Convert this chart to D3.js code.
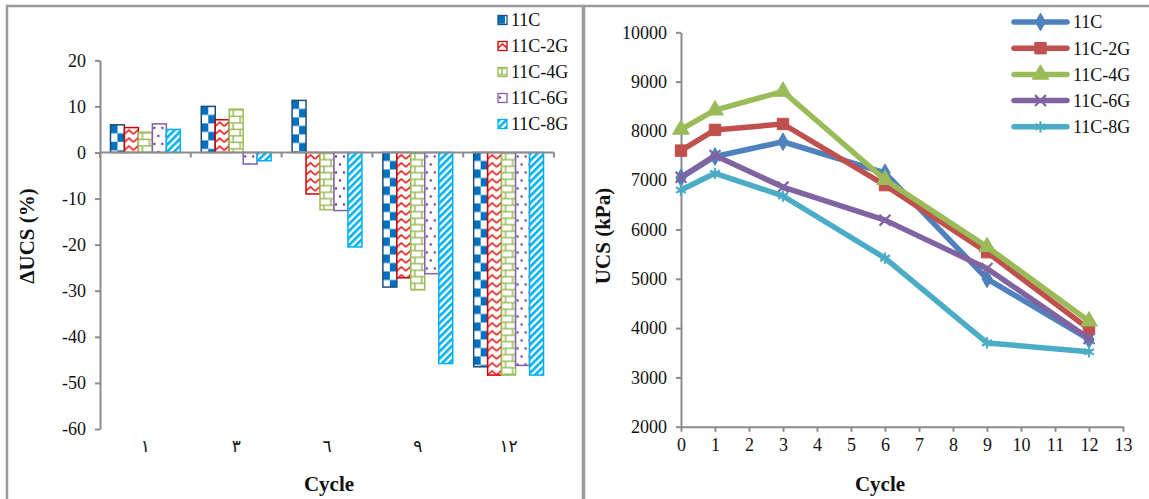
<!DOCTYPE html>
<html>
<head>
<meta charset="utf-8">
<script src="https://cdn.jsdelivr.net/npm/d3@7"></script>
<style>
  html, body { margin: 0; padding: 0; background: #fff; }
  svg { display: block; }
  svg text { font-family: "Liberation Serif", "Times New Roman", "DejaVu Serif", serif; fill: #111; }
  svg text.arabic { font-family: "DejaVu Sans", "Noto Sans", sans-serif; }
</style>
</head>
<body>
<svg id="chart" width="1149" height="499"></svg>
<script>
// ---- data ----
const seriesNames = ["11C", "11C-2G", "11C-4G", "11C-6G", "11C-8G"];

// change in UCS (%) per cycle
const barCategories = ["١", "٣", "٦", "٩", "١٢"];
const delta11C  = [6.0, 10.0, 11.3, -29.2, -46.5];
const delta2G   = [5.4, 7.1, -9.0, -27.2, -48.3];
const delta4G   = [4.4, 9.4, -12.4, -29.8, -48.3];
const delta6G   = [6.2, -2.5, -12.6, -26.3, -46.2];
const delta8G   = [5.0, -1.8, -20.5, -45.8, -48.3];
const deltaTicks = [-60, -50, -40, -30, -20, -10, 0, 10, 20];

// UCS (kPa) per cycle
const cycles  = [0, 1, 3, 6, 9, 12];
const ucs11C  = [7050, 7480, 7780, 7150, 5000, 3770];
const ucs2G   = [7600, 8020, 8140, 6900, 5540, 3980];
const ucs4G   = [8030, 8420, 8800, 7010, 5650, 4140];
const ucs6G   = [7060, 7500, 6860, 6190, 5210, 3790];
const ucs8G   = [6800, 7140, 6680, 5420, 3700, 3520];
const ucsTicks = [2000, 3000, 4000, 5000, 6000, 7000, 8000, 9000, 10000];
const cycleTicks = d3.range(0, 14);

const deltaSeries = [delta11C, delta2G, delta4G, delta6G, delta8G];
const ucsSeries = [ucs11C, ucs2G, ucs4G, ucs6G, ucs8G];

const svg = d3.select("#chart");
const axisColor = "#8c8c8c";
const labelSize = 18;
const plain = d => String(d);   // hyphen-minus, no grouping

// ---- panel frames ----
svg.append("rect").attr("x", 7).attr("y", 6).attr("width", 576).attr("height", 520)
  .attr("fill", "none").attr("stroke", "#9a9a9a").attr("stroke-width", 2.5);
svg.append("rect").attr("x", 584).attr("y", 6).attr("width", 580).attr("height", 520)
  .attr("fill", "none").attr("stroke", "#9a9a9a").attr("stroke-width", 2.5);

// ---- fill patterns for the bars ----
const defs = svg.append("defs");

const pChk = defs.append("pattern").attr("id", "pat0").attr("patternUnits", "userSpaceOnUse")
  .attr("width", 14).attr("height", 17);
pChk.append("rect").attr("width", 14).attr("height", 17).attr("fill", "#fff");
pChk.append("rect").attr("x", 0).attr("y", 0).attr("width", 7).attr("height", 8.5).attr("fill", "#0070C0");
pChk.append("rect").attr("x", 7).attr("y", 8.5).attr("width", 7).attr("height", 8.5).attr("fill", "#0070C0");

const pZig = defs.append("pattern").attr("id", "pat1").attr("patternUnits", "userSpaceOnUse")
  .attr("width", 9).attr("height", 8);
pZig.append("rect").attr("width", 9).attr("height", 8).attr("fill", "#fff");
pZig.append("path").attr("d", "M0,6.5 L4.5,2.5 L9,6.5").attr("fill", "none")
  .attr("stroke", "#E00000").attr("stroke-width", 1.6);

const pBrick = defs.append("pattern").attr("id", "pat2").attr("patternUnits", "userSpaceOnUse")
  .attr("width", 14).attr("height", 13);
pBrick.append("rect").attr("width", 14).attr("height", 13).attr("fill", "#fff");
pBrick.append("path").attr("d", "M0,0.75 H14 M0,7.25 H14 M4,0.75 V7.25 M11,7.25 V13.75")
  .attr("fill", "none").attr("stroke", "#9BBB59").attr("stroke-width", 1.5);

const pDot = defs.append("pattern").attr("id", "pat3").attr("patternUnits", "userSpaceOnUse")
  .attr("width", 8).attr("height", 16);
pDot.append("rect").attr("width", 8).attr("height", 16).attr("fill", "#fff");
pDot.append("circle").attr("cx", 2).attr("cy", 4).attr("r", 1.2).attr("fill", "#7030A0");
pDot.append("circle").attr("cx", 6).attr("cy", 12).attr("r", 1.2).attr("fill", "#7030A0");

const pDiag = defs.append("pattern").attr("id", "pat4").attr("patternUnits", "userSpaceOnUse")
  .attr("width", 5).attr("height", 5).attr("patternTransform", "rotate(45)");
pDiag.append("rect").attr("width", 5).attr("height", 5).attr("fill", "#fff");
pDiag.append("rect").attr("width", 2.6).attr("height", 5).attr("fill", "#00B0F0");

const barStroke = ["#1F4E79", "#D00000", "#9BBB59", "#8060B0", "#00B0F0"];

// ---- left panel: grouped bar chart ----
const yL = d3.scaleLinear().domain([-60, 20]).range([429, 60.3]);
const xL = d3.scaleBand().domain(barCategories).range([100, 554]);
const xS = d3.scaleBand().domain(seriesNames).range([0, xL.bandwidth()]).paddingOuter(0.75);

const gBars = svg.append("g");
barCategories.forEach((cat, ci) => {
  deltaSeries.forEach((vals, si) => {
    const v = vals[ci];
    const x0 = xL(cat) + xS(seriesNames[si]);
    const yTop = yL(Math.max(0, v));
    const h = Math.abs(yL(v) - yL(0));
    const g = gBars.append("g").attr("transform", `translate(${x0},${yTop})`);
    g.append("rect").attr("x", 0).attr("y", 0).attr("width", xS.bandwidth()).attr("height", h)
      .attr("fill", `url(#pat${si})`).attr("stroke", barStroke[si]).attr("stroke-width", 1.5);
  });
});

// y axis
svg.append("g").attr("transform", "translate(100,0)")
  .call(d3.axisLeft(yL).tickValues(deltaTicks).tickFormat(plain).tickSize(5).tickPadding(9).tickSizeOuter(0));
// category boundary ticks along the zero line
const boundaries = barCategories.map(c => xL(c)).concat([xL.range()[1]]);
const gZero = svg.append("g");
gZero.append("line").attr("x1", 100).attr("x2", 554).attr("y1", yL(0)).attr("y2", yL(0))
  .attr("stroke", axisColor).attr("stroke-width", 2);
gZero.selectAll("line.bt").data(boundaries).join("line").attr("class", "bt")
  .attr("x1", d => d).attr("x2", d => d).attr("y1", yL(0)).attr("y2", yL(0) + 5)
  .attr("stroke", axisColor).attr("stroke-width", 2);
// category labels at the bottom of the plot
const axCat = svg.append("g").attr("transform", "translate(0,436)")
  .call(d3.axisBottom(xL).tickSize(0).tickPadding(4));
axCat.select(".domain").remove();
axCat.selectAll("text").attr("class", "arabic").attr("font-size", 17);

// ---- right panel: line chart ----
const xR = d3.scaleLinear().domain([0, 13]).range([681, 1123]);
const yR = d3.scaleLinear().domain([2000, 10000]).range([426.7, 32.3]);

svg.append("g").attr("transform", "translate(681,0)")
  .call(d3.axisLeft(yR).tickValues(ucsTicks).tickSize(5).tickPadding(9).tickSizeOuter(0).tickFormat(plain));
svg.append("g").attr("transform", `translate(0,${yR(2000)})`)
  .call(d3.axisBottom(xR).tickValues(cycleTicks).tickFormat(plain).tickSize(5).tickPadding(7).tickSizeOuter(0));

// shared axis styling
svg.selectAll(".domain").attr("stroke", axisColor).attr("stroke-width", 2);
svg.selectAll(".tick line").attr("stroke", axisColor).attr("stroke-width", 2);
svg.selectAll(".tick text:not(.arabic)").attr("font-size", labelSize);

const lineColors = ["#4F81BD", "#C0504D", "#9BBB59", "#8064A2", "#4BACC6"];
const markerSymbols = [d3.symbolDiamond, d3.symbolSquare, d3.symbolTriangle, d3.symbolX, d3.symbolAsterisk];
const markerSizes = [90, 130, 120, 80, 90];

const line = d3.line().x((d, i) => xR(cycles[i])).y(d => yR(d));

function drawMarker(g, si, x, y) {
  const sym = d3.symbol().type(markerSymbols[si]).size(markerSizes[si]);
  const p = g.append("path").attr("d", sym()).attr("transform", `translate(${x},${y})`);
  if (si >= 3) {
    p.attr("fill", "none").attr("stroke", lineColors[si]).attr("stroke-width", 2.2);
  } else {
    p.attr("fill", lineColors[si]).attr("stroke", lineColors[si]).attr("stroke-width", 1);
  }
}

const gLines = svg.append("g");
ucsSeries.forEach((vals, si) => {
  gLines.append("path").datum(vals).attr("d", line).attr("fill", "none")
    .attr("stroke", lineColors[si]).attr("stroke-width", 5.5)
    .attr("stroke-linejoin", "round").attr("stroke-linecap", "round");
  vals.forEach((v, i) => drawMarker(gLines, si, xR(cycles[i]), yR(v)));
});

// ---- legends ----
const legL = svg.append("g");
seriesNames.forEach((name, si) => {
  const y = 20 + si * 26;
  legL.append("g").attr("transform", `translate(498,${y - 4.5})`)
    .append("rect").attr("width", 9).attr("height", 9)
    .attr("fill", `url(#pat${si})`).attr("stroke", barStroke[si]).attr("stroke-width", 1.3);
  legL.append("text").attr("x", 511).attr("y", y).attr("dy", "0.35em")
    .attr("font-size", labelSize).text(name);
});

const legR = svg.append("g");
seriesNames.forEach((name, si) => {
  const y = 22 + si * 26.2;
  legR.append("line").attr("x1", 1014).attr("x2", 1067).attr("y1", y).attr("y2", y)
    .attr("stroke", lineColors[si]).attr("stroke-width", 5.5).attr("stroke-linecap", "round");
  drawMarker(legR, si, 1040.5, y);
  legR.append("text").attr("x", 1073).attr("y", y).attr("dy", "0.35em")
    .attr("font-size", labelSize).text(name);
});

// ---- axis titles ----
svg.append("text").attr("transform", "translate(27,236) rotate(-90)").attr("text-anchor", "middle")
  .attr("dy", "0.35em").attr("font-weight", "bold").attr("font-size", 21)
  .text("ΔUCS (%)");
svg.append("text").attr("x", 329).attr("y", 484).attr("text-anchor", "middle").attr("dy", "0.35em")
  .attr("font-weight", "bold").attr("font-size", 21).text("Cycle");
svg.append("text").attr("transform", "translate(603,236) rotate(-90)").attr("text-anchor", "middle")
  .attr("dy", "0.35em").attr("font-weight", "bold").attr("font-size", 21)
  .text("UCS (kPa)");
svg.append("text").attr("x", 880).attr("y", 484).attr("text-anchor", "middle").attr("dy", "0.35em")
  .attr("font-weight", "bold").attr("font-size", 21).text("Cycle");
</script>
</body>
</html>
